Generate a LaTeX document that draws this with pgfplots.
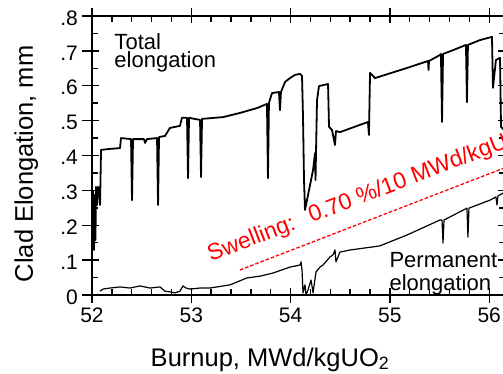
\documentclass[border=0pt]{standalone}
\usepackage{pgfplots}
\pgfplotsset{compat=1.18}
\usepackage{fontspec}
\setmainfont{Liberation Sans}
\begin{document}
\begin{tikzpicture}
\begin{axis}[
  x=99.3pt, y=348.75pt,
  xmin=52, xmax=56.16, ymin=0, ymax=0.8,
  axis line style={line width=1.6pt},
  tick style={black, line width=1.4pt},
  tick align=inside,
  major tick length=7pt, minor tick length=6pt,
  xtick={52,53,54,55,56}, xticklabels={52,53,54,55,56},
  minor x tick num=4,
  ytick={0,0.1,0.2,0.3,0.4,0.5,0.6,0.7,0.8},
  yticklabels={0,.1,.2,.3,.4,.5,.6,.7,.8},
  minor y tick num=1,
  extra x ticks={52,53,54,55,56}, extra x tick labels={},
  extra x tick style={tick align=outside, major tick length=8pt},
  extra y ticks={0,0.1,0.2,0.3,0.4,0.5,0.6,0.7,0.8}, extra y tick labels={},
  extra y tick style={tick align=outside, major tick length=10pt},
  /pgf/number format/assume math mode=true,
  ticklabel style={font=\fontsize{21}{21}\selectfont},
  xticklabel style={inner sep=2pt, yshift=-11pt},
  yticklabel style={inner sep=2pt, xshift=-12pt, yshift=-2pt},
  xlabel={Burnup, MWd/kgUO\textsubscript{2}},
  ylabel={Clad Elongation, mm},
  every axis x label/.style={at={(axis description cs:0.431,-0.2545)}, anchor=base, font=\fontsize{25.5}{25.5}\selectfont},
  every axis y label/.style={at={(axis description cs:-0.1429,0.47)}, rotate=90, anchor=base, font=\fontsize{25.5}{25.5}\selectfont},
]
\addplot[black, line width=1.8pt, line join=round] coordinates {
(52.010,0.301)(52.020,0.129)(52.030,0.287)(52.035,0.158)(52.040,0.310)(52.050,0.258)(52.060,0.310)(52.070,0.301)(52.081,0.258)(52.091,0.416)(52.181,0.419)(52.282,0.421)(52.292,0.450)(52.393,0.447)(52.403,0.272)(52.413,0.447)(52.524,0.447)(52.534,0.436)(52.554,0.447)(52.655,0.450)(52.665,0.258)(52.675,0.453)(52.735,0.456)(52.785,0.479)(52.836,0.482)(52.886,0.485)(52.906,0.508)(52.957,0.508)(52.967,0.335)(52.977,0.508)(53.088,0.502)(53.098,0.338)(53.108,0.505)(53.319,0.510)(53.490,0.522)(53.662,0.536)(53.762,0.548)(53.772,0.335)(53.782,0.551)(53.813,0.579)(53.883,0.582)(53.893,0.530)(53.903,0.582)(53.944,0.611)(53.994,0.622)(54.044,0.631)(54.095,0.634)(54.115,0.628)(54.125,0.510)(54.135,0.330)(54.145,0.244)(54.165,0.272)(54.226,0.358)(54.246,0.407)(54.251,0.330)(54.256,0.410)(54.266,0.559)(54.286,0.599)(54.377,0.605)(54.387,0.482)(54.417,0.473)(54.447,0.430)(54.457,0.470)(54.497,0.467)(54.779,0.496)(54.789,0.459)(54.800,0.637)(54.850,0.622)(55.172,0.651)(55.384,0.671)(55.389,0.645)(55.394,0.671)(55.504,0.688)(55.514,0.691)(55.525,0.496)(55.535,0.691)(55.635,0.702)(55.766,0.717)(55.776,0.553)(55.786,0.717)(55.907,0.731)(56.028,0.740)(56.038,0.594)(56.068,0.674)(56.109,0.680)(56.119,0.482)(56.159,0.470)
};
\addplot[black, line width=1.2pt, line join=round] coordinates {
(52.081,0.011)(52.111,0.017)(52.181,0.020)(52.282,0.023)(52.383,0.020)(52.483,0.026)(52.584,0.020)(52.685,0.023)(52.735,0.011)(52.785,0.009)(52.836,0.006)(52.886,0.011)(52.916,0.026)(52.947,0.020)(52.987,0.017)(53.088,0.020)(53.188,0.020)(53.390,0.029)(53.561,0.049)(53.692,0.054)(53.823,0.063)(53.994,0.080)(54.095,0.086)(54.105,0.095)(54.115,0.072)(54.125,0.006)(54.145,0.029)(54.155,0.000)(54.175,0.014)(54.206,0.043)(54.226,0.006)(54.256,0.066)(54.296,0.080)(54.326,0.086)(54.397,0.109)(54.427,0.115)(54.447,0.129)(54.457,0.095)(54.497,0.123)(54.598,0.129)(54.830,0.138)(54.900,0.141)(55.172,0.172)(55.504,0.215)(55.525,0.215)(55.535,0.149)(55.545,0.215)(55.776,0.249)(55.786,0.166)(55.796,0.249)(56.008,0.272)(56.068,0.281)(56.078,0.258)(56.088,0.284)(56.139,0.292)(56.169,0.295)
};
\addplot[red, line width=1.3pt, dash pattern=on 3.5pt off 2pt] coordinates {(53.49,0.0717) (56.20,0.3695)};
\node[anchor=base west, font=\fontsize{22}{22}\selectfont] at (axis cs:52.191,0.705) {Total};
\node[anchor=base west, font=\fontsize{22}{22}\selectfont] at (axis cs:52.191,0.6515) {elongation};
\node[anchor=base west, font=\fontsize{22}{22}\selectfont] at (axis cs:54.961,0.080) {Permanent};
\node[anchor=base west, font=\fontsize{22}{22}\selectfont] at (axis cs:54.961,0.0143) {elongation};
\node[anchor=base west, rotate=21, text=red, font=\fontsize{23}{23}\selectfont] at (axis cs:53.165,0.0918) {Swelling:\hspace{0.7em}0.70 \%/10 MWd/kgU};
\end{axis}
\pgfresetboundingbox
\path[use as bounding box] (-92pt,-79pt) rectangle (411pt,295pt);
\end{tikzpicture}
\end{document}
